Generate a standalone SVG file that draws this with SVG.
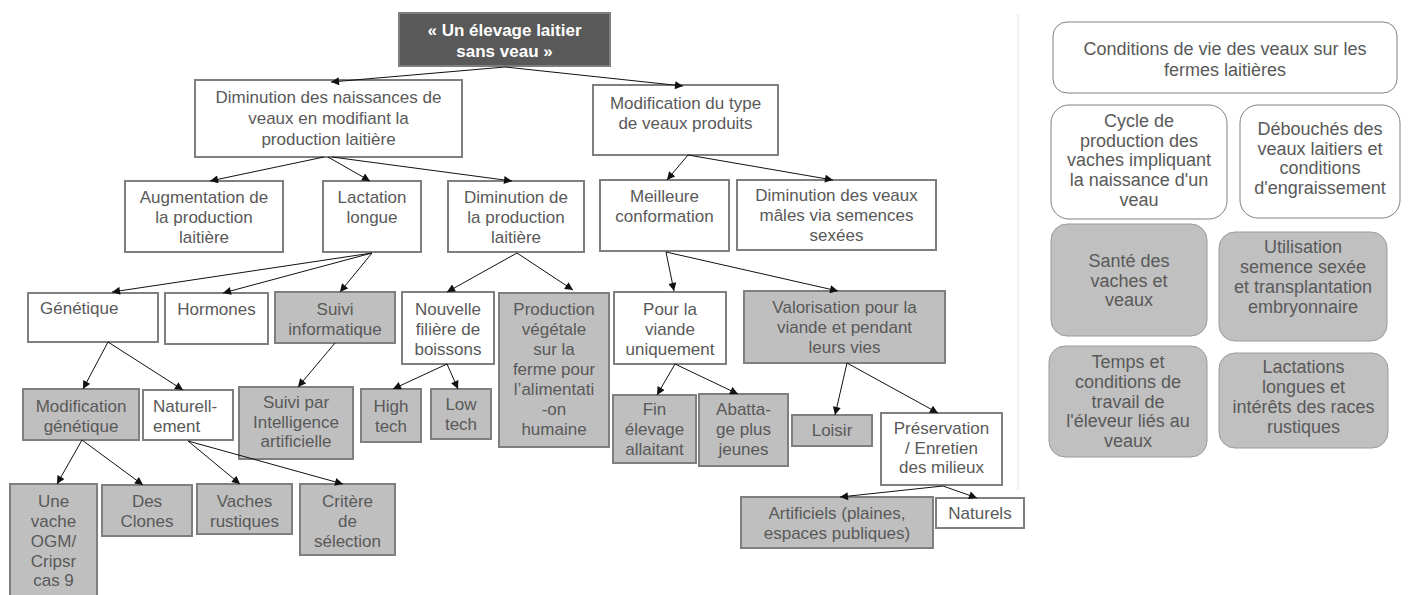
<svg xmlns="http://www.w3.org/2000/svg" width="1408" height="595" viewBox="0 0 1408 595">
<defs>
<marker id="ah" viewBox="0 0 10 10" refX="10" refY="5" markerWidth="9" markerHeight="8" markerUnits="userSpaceOnUse" orient="auto">
<path d="M0,0 L10,5 L0,10 z" fill="#111"/>
</marker>
<style>
.w{fill:#fff;stroke:#7f7f7f;stroke-width:2}
.g{fill:#bfbfbf;stroke:#7f7f7f;stroke-width:2}
.rw{fill:#fff;stroke:#808080;stroke-width:1}
.rg{fill:#c0c0c0;stroke:#9a9a9a;stroke-width:1}
text{font-family:"Liberation Sans",Arial,sans-serif;font-size:17px;fill:#595959;text-anchor:middle}
.rt text{font-size:18px}
.root text{fill:#fff;font-weight:bold}
.lf text{text-anchor:start}
#edges line{stroke:#111;stroke-width:1;marker-end:url(#ah)}
</style>
</defs>
<rect width="1408" height="595" fill="#fff"/>
<line x1="1018" y1="14" x2="1018" y2="490" stroke="#ededed" stroke-width="1.5"/>

<g id="root" class="root"><rect x="399" y="13" width="211" height="53" fill="#595959" stroke="#7f7f7f" stroke-width="2"/>
<text x="504.5" y="36">« Un élevage laitier</text><text x="504.5" y="57">sans veau »</text></g>

<g id="n1"><rect class="w" x="195" y="80" width="267" height="77"/>
<text x="328.5" y="103">Diminution des naissances de</text><text x="328.5" y="124">veaux en modifiant la</text><text x="328.5" y="145">production laitière</text></g>
<g id="n2"><rect class="w" x="593" y="85" width="185" height="70"/>
<text x="685.5" y="109">Modification du type</text><text x="685.5" y="129">de veaux produits</text></g>

<g id="n3"><rect class="w" x="125" y="181" width="158" height="71"/>
<text x="204" y="203">Augmentation de</text><text x="204" y="223">la production</text><text x="204" y="243">laitière</text></g>
<g id="n4"><rect class="w" x="323" y="181" width="98" height="71"/>
<text x="372" y="203">Lactation</text><text x="372" y="223">longue</text></g>
<g id="n5"><rect class="w" x="448" y="181" width="136" height="71"/>
<text x="516" y="203">Diminution de</text><text x="516" y="223">la production</text><text x="516" y="243">laitière</text></g>
<g id="n6"><rect class="w" x="600" y="180" width="129" height="71"/>
<text x="664.5" y="202">Meilleure</text><text x="664.5" y="222">conformation</text></g>
<g id="n7"><rect class="w" x="737" y="180" width="199" height="70"/>
<text x="836.5" y="201">Diminution des veaux</text><text x="836.5" y="221">mâles via semences</text><text x="836.5" y="241">sexées</text></g>

<g id="n8" class="lf"><rect class="w" x="28" y="293" width="130" height="49"/>
<text x="40" y="314">Génétique</text></g>
<g id="n9"><rect class="w" x="165" y="293" width="103" height="51"/>
<text x="216.5" y="315">Hormones</text></g>
<g id="n10"><rect class="g" x="275" y="292" width="120" height="51"/>
<text x="335" y="315">Suivi</text><text x="335" y="335">informatique</text></g>
<g id="n11"><rect class="w" x="402" y="292" width="92" height="72"/>
<text x="448" y="315">Nouvelle</text><text x="448" y="335">filière de</text><text x="448" y="355">boissons</text></g>
<g id="n12"><rect class="g" x="499" y="293" width="110" height="154"/>
<text x="554" y="315">Production</text><text x="554" y="335">végétale</text><text x="554" y="355">sur la</text><text x="554" y="375">ferme pour</text><text x="554" y="395">l’alimentati</text><text x="554" y="415">-on</text><text x="554" y="435">humaine</text></g>
<g id="n13"><rect class="w" x="614" y="292" width="112" height="72"/>
<text x="670" y="315">Pour la</text><text x="670" y="335">viande</text><text x="670" y="355">uniquement</text></g>
<g id="n14"><rect class="g" x="744" y="291" width="201" height="72"/>
<text x="844.5" y="313">Valorisation pour la</text><text x="844.5" y="333">viande et pendant</text><text x="844.5" y="353">leurs vies</text></g>

<g id="n15"><rect class="g" x="23" y="389" width="116" height="51"/>
<text x="81" y="412">Modification</text><text x="81" y="432">génétique</text></g>
<g id="n16" class="lf"><rect class="w" x="143" y="390" width="90" height="50"/>
<text x="153" y="412">Naturell-</text><text x="153" y="432">ement</text></g>
<g id="n17"><rect class="g" x="239" y="387" width="114" height="72"/>
<text x="296" y="408">Suivi par</text><text x="296" y="428">Intelligence</text><text x="296" y="447">artificielle</text></g>
<g id="n18"><rect class="g" x="361" y="389" width="60" height="53"/>
<text x="391" y="412">High</text><text x="391" y="432">tech</text></g>
<g id="n19"><rect class="g" x="431" y="389" width="60" height="50"/>
<text x="461" y="410">Low</text><text x="461" y="430">tech</text></g>
<g id="n20"><rect class="g" x="613" y="395" width="83" height="68"/>
<text x="654.5" y="415">Fin</text><text x="654.5" y="435">élevage</text><text x="654.5" y="455">allaitant</text></g>
<g id="n21"><rect class="g" x="699" y="394" width="89" height="72"/>
<text x="743.5" y="415">Abatta-</text><text x="743.5" y="435">ge plus</text><text x="743.5" y="455">jeunes</text></g>
<g id="n22"><rect class="g" x="792" y="415" width="80" height="31"/>
<text x="832" y="436">Loisir</text></g>
<g id="n23"><rect class="w" x="881" y="413" width="121" height="72"/>
<text x="941.5" y="434">Préservation</text><text x="941.5" y="454">/ Enretien</text><text x="941.5" y="473">des milieux</text></g>

<g id="n24"><rect class="g" x="10" y="484" width="87" height="120"/>
<text x="53.5" y="507">Une</text><text x="53.5" y="527">vache</text><text x="53.5" y="547">OGM/</text><text x="53.5" y="567">Cripsr</text><text x="53.5" y="586">cas 9</text></g>
<g id="n25"><rect class="g" x="102" y="485" width="90" height="51"/>
<text x="147" y="507">Des</text><text x="147" y="527">Clones</text></g>
<g id="n26"><rect class="g" x="197" y="484" width="95" height="50"/>
<text x="244.5" y="507">Vaches</text><text x="244.5" y="527">rustiques</text></g>
<g id="n27"><rect class="g" x="300" y="484" width="95" height="71"/>
<text x="347.5" y="507">Critère</text><text x="347.5" y="527">de</text><text x="347.5" y="547">sélection</text></g>
<g id="n28"><rect class="g" x="741" y="497" width="192" height="51"/>
<text x="837" y="519">Artificiels (plaines,</text><text x="837" y="539">espaces publiques)</text></g>
<g id="n29"><rect class="w" x="936" y="498" width="88" height="30"/>
<text x="980" y="519">Naturels</text></g>

<g id="edges">
<line x1="505" y1="67" x2="331" y2="82"/>
<line x1="505" y1="67" x2="683" y2="86"/>
<line x1="324" y1="157" x2="210" y2="181"/>
<line x1="328" y1="157" x2="370" y2="181"/>
<line x1="332" y1="157" x2="512" y2="181"/>
<line x1="372" y1="253" x2="112" y2="292"/>
<line x1="372" y1="253" x2="223" y2="293"/>
<line x1="372" y1="253" x2="340" y2="292"/>
<line x1="517" y1="253" x2="447" y2="292"/>
<line x1="517" y1="253" x2="573" y2="290"/>
<line x1="688" y1="155" x2="667" y2="180"/>
<line x1="688" y1="155" x2="833" y2="180"/>
<line x1="666" y1="252" x2="674" y2="291"/>
<line x1="666" y1="252" x2="838" y2="291"/>
<line x1="108" y1="342" x2="83" y2="389"/>
<line x1="108" y1="342" x2="183" y2="390"/>
<line x1="335" y1="343" x2="298" y2="387"/>
<line x1="447" y1="364" x2="393" y2="389"/>
<line x1="447" y1="364" x2="458" y2="389"/>
<line x1="675" y1="364" x2="657" y2="395"/>
<line x1="675" y1="364" x2="738" y2="394"/>
<line x1="847" y1="363" x2="835" y2="415"/>
<line x1="847" y1="363" x2="938" y2="413"/>
<line x1="82" y1="440" x2="57" y2="484"/>
<line x1="82" y1="440" x2="143" y2="485"/>
<line x1="188" y1="441" x2="240" y2="484"/>
<line x1="188" y1="441" x2="343" y2="484"/>
<line x1="943" y1="486" x2="840" y2="497"/>
<line x1="943" y1="486" x2="977" y2="498"/>
</g>

<g id="c1" class="rt"><rect class="rw" x="1053" y="22" width="344" height="71" rx="14"/>
<text x="1225" y="55">Conditions de vie des veaux sur les</text><text x="1225" y="76">fermes laitières</text></g>
<g id="c2" class="rt"><rect class="rw" x="1051" y="105" width="176" height="114" rx="18"/>
<text x="1139" y="127">Cycle de</text><text x="1139" y="147">production des</text><text x="1139" y="166">vaches impliquant</text><text x="1139" y="186">la naissance d'un</text><text x="1139" y="206">veau</text></g>
<g id="c3" class="rt"><rect class="rw" x="1240" y="105" width="160" height="113" rx="18"/>
<text x="1320" y="135">Débouchés des</text><text x="1320" y="155">veaux laitiers et</text><text x="1320" y="174">conditions</text><text x="1320" y="194">d'engraissement</text></g>
<g id="c4" class="rt"><rect class="rg" x="1051" y="224" width="156" height="112" rx="16"/>
<text x="1129" y="267">Santé des</text><text x="1129" y="287">vaches et</text><text x="1129" y="306">veaux</text></g>
<g id="c5" class="rt"><rect class="rg" x="1219" y="232" width="168" height="109" rx="16"/>
<text x="1303" y="253">Utilisation</text><text x="1303" y="273">semence sexée</text><text x="1303" y="293">et transplantation</text><text x="1303" y="313">embryonnaire</text></g>
<g id="c6" class="rt"><rect class="rg" x="1049" y="346" width="158" height="111" rx="16"/>
<text x="1128" y="368">Temps et</text><text x="1128" y="388">conditions de</text><text x="1128" y="408">travail de</text><text x="1128" y="427">l'éleveur liés au</text><text x="1128" y="447">veaux</text></g>
<g id="c7" class="rt"><rect class="rg" x="1219" y="353" width="169" height="95" rx="16"/>
<text x="1303.5" y="373">Lactations</text><text x="1303.5" y="393">longues et</text><text x="1303.5" y="413">intérêts des races</text><text x="1303.5" y="433">rustiques</text></g>
</svg>
